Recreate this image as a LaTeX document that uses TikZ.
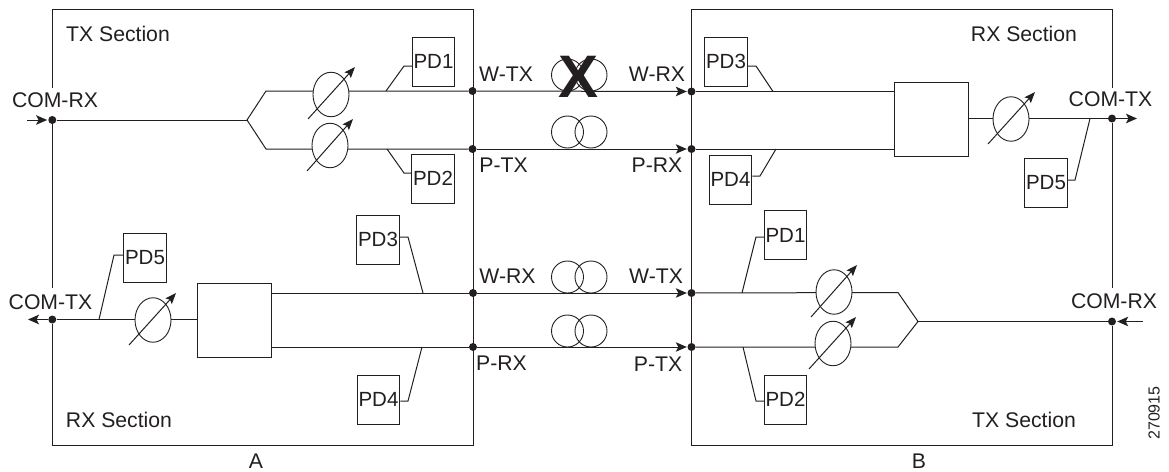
\documentclass[tikz,border=0pt]{standalone}
\usepackage{fontspec}
\setmainfont{Liberation Sans}
\usetikzlibrary{arrows.meta,shapes.geometric}
\definecolor{ink}{HTML}{231F20}
\tikzset{
  wire/.style={draw=ink,line width=1pt},
  sig/.style={wire,-{Stealth[length=11pt,width=9.5pt,inset=2.5pt]}},
  lbl/.style={inner sep=0pt,text=ink,font=\fontsize{21.2}{24}\selectfont},
  pd/.style={draw=ink,line width=1pt,fill=white,minimum width=42.5pt,minimum height=49pt,inner sep=0pt,text=ink,font=\fontsize{20.5}{24}\selectfont},
  block/.style={draw=ink,line width=1pt,fill=white,minimum width=74pt,minimum height=74pt,inner sep=0pt},
  att/.style={ellipse,draw=ink,line width=.9pt,fill=white,minimum width=36pt,minimum height=44.5pt,inner sep=0pt},
  fiber/.style={circle,draw=ink,line width=.9pt,minimum size=32pt,inner sep=0pt},
  dot/.style={circle,fill=ink,minimum size=8pt,inner sep=0pt},
  tuner/.style={wire,-{Stealth[length=11pt,width=8.5pt,inset=2pt]}}
}
\begin{document}
\begin{tikzpicture}[x=1pt,y=-1pt]
\useasboundingbox (0,0) rectangle (1169,471);
% ---- junction dots (positions first)
\node[dot] (aw) at (472.5,91) {};
\node[dot] (ap) at (472.5,149) {};
\node[dot] (arw) at (473,293) {};
\node[dot] (arp) at (473,347) {};
\node[dot] (bw) at (691.5,91.5) {};
\node[dot] (bp) at (691.5,149) {};
\node[dot] (btw) at (691.5,293) {};
\node[dot] (btp) at (691.5,347) {};
\node[dot] (acr) at (52.3,120) {};
\node[dot] (act) at (52.3,319.5) {};
\node[dot] (bct) at (1112,118.5) {};
\node[dot] (bcr) at (1112,321.5) {};
% ---- section frames, open where the COM labels sit
\coordinate (aNW) at (52.3,9); \coordinate (aNE) at (473,9);
\coordinate (aSW) at (52.3,445); \coordinate (aSE) at (473,445);
\coordinate (bNW) at (691.5,9); \coordinate (bNE) at (1112,9);
\coordinate (bSW) at (691.5,445); \coordinate (bSE) at (1112,445);
\coordinate (agap1) at (52.3,88); \coordinate (agap2) at (52.3,288);
\coordinate (bgap1) at (1112,88); \coordinate (bgap2) at (1112,288);
\draw[wire] (agap1) -- (aNW) -- (aNE) -- (aSE) -- (aSW) -- (act);
\draw[wire] (acr) -- (agap2);
\draw[wire] (bgap1) -- (bNE) -- (bNW) -- (bSW) -- (bSE) -- (bcr);
\draw[wire] (bct) -- (bgap2);
% ---- A TX section
\coordinate (asplit) at (247,120);
\coordinate (asu) at (266,91); \coordinate (asd) at (266,149);
\draw[wire,line join=miter] (acr) -- (asplit);
\draw[wire] (aw) -- (asu) -- (asplit) -- (asd) -- (ap);
\node[att] (att1) at (331,94.5) {};
\node[att] (att2) at (330,145.5) {};
\draw[tuner] ([shift={(-23,24.5)}]att1.center) -- ([shift={(24,-27.5)}]att1.center);
\draw[tuner] ([shift={(-23,25.5)}]att2.center) -- ([shift={(23,-26.5)}]att2.center);
\node[pd] (apd1) at (433.5,61.5) {PD1};
\node[pd] (apd2) at (433,178.5) {PD2};
\coordinate (ap1a) at (386,91); \coordinate (ap2a) at (387,149);
\draw[wire] (ap1a) -- (404,66) -- (apd1.west |- 0,66);
\draw[wire] (ap2a) -- (404,173) -- (apd2.west |- 0,173);
% ---- A RX section
\node[block] (ablock) at (234,320) {};
\draw[wire] (act) -- (ablock.west |- act);
\draw[wire] (arw) -- (ablock.east |- arw);
\draw[wire] (arp) -- (ablock.east |- arp);
\node[att] (att3) at (153,320) {};
\draw[tuner] ([shift={(-24,25)}]att3.center) -- ([shift={(23,-27)}]att3.center);
\node[pd] (apd5) at (145,257.5) {PD5};
\node[pd] (apd3) at (378,239.5) {PD3};
\node[pd] (apd4) at (378.5,399.5) {PD4};
\coordinate (ap5a) at (99,319.5); \coordinate (ap3a) at (423,293); \coordinate (ap4a) at (422,347);
\draw[wire] (ap5a) -- (114,255) -- (apd5.west |- 0,255);
\draw[wire] (ap3a) -- (408,237) -- (apd3.east |- 0,237);
\draw[wire] (ap4a) -- (408,401) -- (apd4.east |- 0,401);
% ---- COM arrows A
\coordinate (acrin) at (27,120); \coordinate (actout) at (28,319.5);
\draw[sig,shorten >=1pt] (acrin) -- (acr);
\draw[sig] (act) -- (actout);
% ---- spans
\draw[sig,shorten >=.5pt] (aw) -- (bw);
\draw[sig,shorten >=.5pt] (ap) -- (bp);
\draw[sig,shorten >=.5pt] (arw) -- (btw);
\draw[sig,shorten >=.5pt] (arp) -- (btp);
\foreach \n/\x/\y in {f1a/567.5/75,f1b/591/75,f2a/567.5/132,f2b/591/132,f3a/567.5/277,f3b/591/277,f4a/567.5/331,f4b/591/331}
  \node[fiber] (\n) at (\x,\y) {};
\node[inner sep=0pt,text=ink,font=\fontsize{60}{60}\selectfont\bfseries] (cut) at (578.5,77) {X};
% ---- B RX section
\node[block] (bblock) at (931,119) {};
\draw[wire] (bw) -- (bblock.west |- bw);
\draw[wire] (bp) -- (bblock.west |- bp);
\draw[wire] (bblock.east |- bct) -- (bct);
\node[att] (att4) at (1011,119) {};
\draw[tuner] ([shift={(-23,25)}]att4.center) -- ([shift={(24,-27)}]att4.center);
\node[pd] (bpd3) at (726,61.5) {PD3};
\node[pd] (bpd4) at (730.5,179.5) {PD4};
\node[pd] (bpd5) at (1046,183) {PD5};
\coordinate (bp3a) at (773,91.5); \coordinate (bp4a) at (776,149); \coordinate (bp5a) at (1090,118.5);
\draw[wire] (bpd3.east |- 0,66) -- (756,66) -- (bp3a);
\draw[wire] (bpd4.east |- 0,176) -- (760,176) -- (bp4a);
\draw[wire] (bpd5.east |- 0,180) -- (1075,180) -- (bp5a);
% ---- B TX section
\coordinate (bsplit) at (918,321.5);
\coordinate (bsu) at (898,292.5); \coordinate (bsd) at (898,347);
\draw[wire] (bcr) -- (bsplit);
\draw[wire] (btw) -- (bsu) -- (bsplit) -- (bsd) -- (btp);
\node[att] (att5) at (834,292) {};
\node[att] (att6) at (833,343.5) {};
\draw[tuner] ([shift={(-23,25)}]att5.center) -- ([shift={(23,-27)}]att5.center);
\draw[tuner] ([shift={(-24,25.5)}]att6.center) -- ([shift={(23,-26.5)}]att6.center);
\node[pd] (bpd1) at (785.5,235) {PD1};
\node[pd] (bpd2) at (785.5,399.5) {PD2};
\coordinate (bp1a) at (742,293); \coordinate (bp2a) at (743,347);
\draw[wire] (bpd1.west |- 0,237) -- (756,237) -- (bp1a);
\draw[wire] (bpd2.west |- 0,401) -- (756,401) -- (bp2a);
% ---- COM arrows B
\coordinate (bctout) at (1137,118.5); \coordinate (bcrin) at (1143,321.5);
\draw[sig] (bct) -- (bctout);
\draw[sig,shorten >=1pt] (bcrin) -- (bcr);
% ---- labels
\node[lbl] (l1) at (55,100) {COM-RX};
\node[lbl] (l2) at (50.5,302) {COM-TX};
\node[lbl] (l3) at (1110.5,99.5) {COM-TX};
\node[lbl] (l4) at (1114,301.5) {COM-RX};
\node[lbl] (s1) at (118,33.5) {TX Section};
\node[lbl] (s2) at (119,420) {RX Section};
\node[lbl] (s3) at (1024,33.5) {RX Section};
\node[lbl] (s4) at (1024,420) {TX Section};
\node[lbl] (t1) at (506,74.5) {W-TX};
\node[lbl] (t2) at (657,74.5) {W-RX};
\node[lbl] (t3) at (503.5,165.5) {P-TX};
\node[lbl] (t4) at (657,165) {P-RX};
\node[lbl] (t5) at (507.5,276.5) {W-RX};
\node[lbl] (t6) at (656,276.5) {W-TX};
\node[lbl] (t7) at (501.5,363.5) {P-RX};
\node[lbl] (t8) at (658,364) {P-TX};
\node[lbl] (na) at (256,461.5) {A};
\node[lbl] (nb) at (919,461.5) {B};
\node[inner sep=0pt,text=ink,rotate=90,font=\fontsize{16}{18}\selectfont] (fig) at (1154,413) {270915};
\end{tikzpicture}
\end{document}
